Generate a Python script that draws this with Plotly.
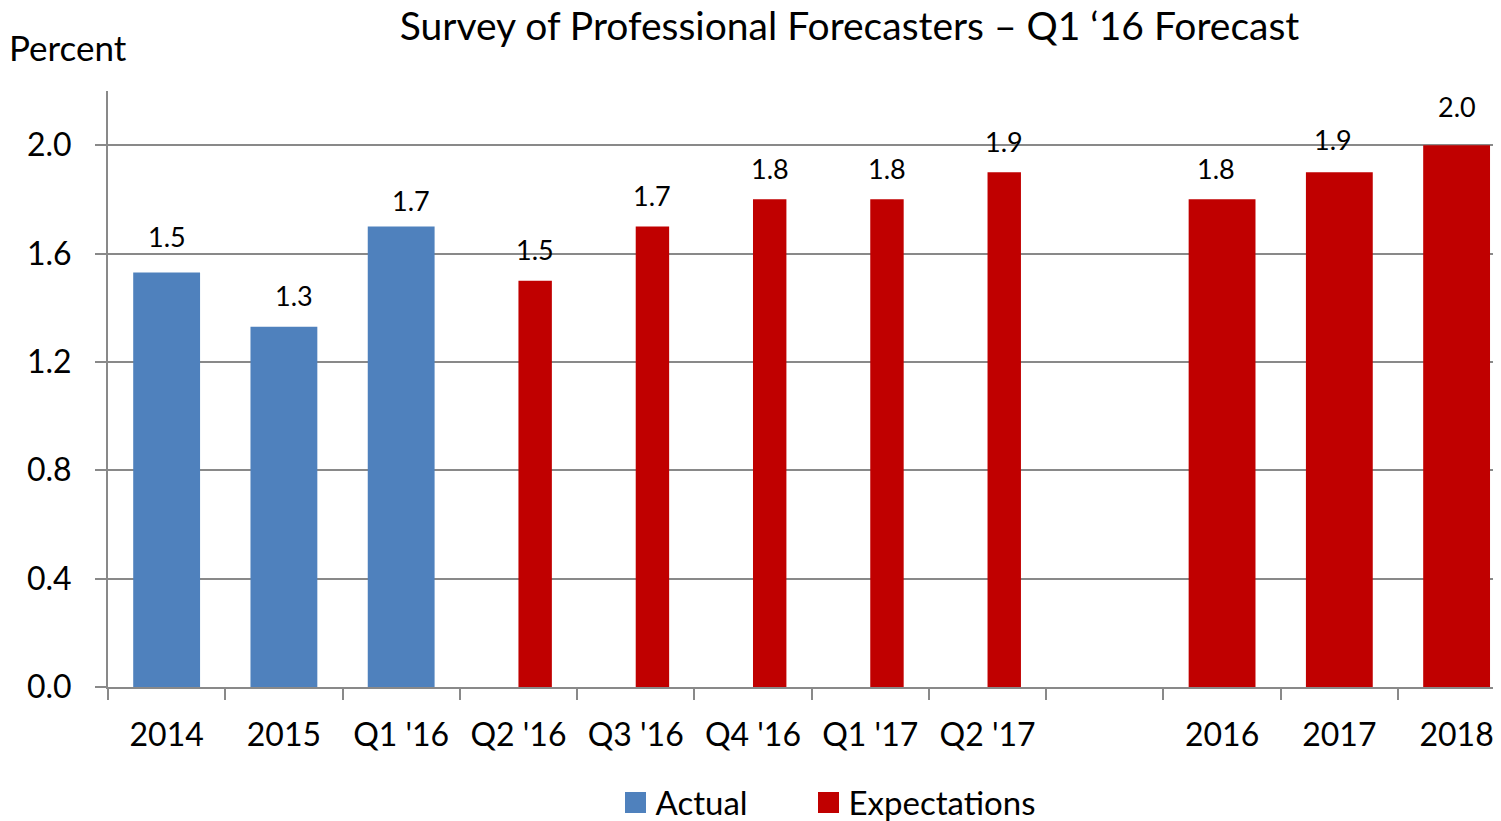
import plotly.graph_objects as go

categories = ["2014", "2015", "Q1 '16", "Q2 '16", "Q3 '16", "Q4 '16",
              "Q1 '17", "Q2 '17", " ", "2016", "2017", "2018"]

actual_cats = ["2014", "2015", "Q1 '16"]
actual_vals = [1.53, 1.33, 1.70]

exp_q_cats = ["Q2 '16", "Q3 '16", "Q4 '16", "Q1 '17", "Q2 '17"]
exp_q_vals = [1.50, 1.70, 1.80, 1.80, 1.90]

exp_y_cats = ["2016", "2017", "2018"]
exp_y_vals = [1.80, 1.90, 2.00]

y_ticks = [0.0, 0.4, 0.8, 1.2, 1.6, 2.0]

BLUE = "#4F81BD"
RED = "#C00000"
GRAY = "#898989"
FONT = "Lato"

# page body has an 8px margin, so the figure is sized to fill the rest
W, H = 1493, 813
ML, MR, MT, MB = 100, 1, 83, 134
XR = [-0.5, 11.37]
cat_px = (W - ML - MR) / (XR[1] - XR[0])
full_w = 0.57
half_w = full_w / 2

# small manual nudges (px) of the value labels, as placed in the original
label_nudge = {"2014": (0, -5), "2015": (10, 0), "Q1 '16": (10, 5),
               "2016": (-6, 2), "2017": (-6, 0), "2018": (0, -6)}

fig = go.Figure()
fig.add_trace(go.Bar(x=actual_cats, y=actual_vals, name="Actual",
                     marker=dict(color=BLUE, line=dict(width=0)), width=full_w,
                     showlegend=False))
fig.add_trace(go.Bar(x=exp_q_cats, y=exp_q_vals, name="Expectations",
                     marker=dict(color=RED, line=dict(width=0)),
                     width=half_w, offset=0, showlegend=False))
fig.add_trace(go.Bar(x=exp_y_cats, y=exp_y_vals, name="Expectations",
                     marker=dict(color=RED, line=dict(width=0)),
                     width=full_w, showlegend=False))

# legend swatches (no data)
for nm, col, lg in [("Actual", BLUE, "legend"), ("Expectations", RED, "legend2")]:
    fig.add_trace(go.Scatter(x=[None], y=[None], mode="markers", name=nm,
                             legend=lg,
                             marker=dict(symbol="square", size=16, color=col,
                                         line=dict(width=5, color=col))))

label_font = dict(family=FONT, size=27, color="black")


def add_label(c, v, xshift, yshift):
    dx, dy = label_nudge.get(c, (0, 0))
    fig.add_annotation(x=categories.index(c), y=v, text=f"{v:.1f}", showarrow=False,
                       yanchor="middle", yshift=yshift - dy, xshift=xshift + dx,
                       font=label_font)


for c, v in zip(actual_cats, actual_vals):
    add_label(c, v, 0, 31)
for c, v in zip(exp_q_cats, exp_q_vals):
    add_label(c, v, half_w / 2 * cat_px, 31)
for c, v in zip(exp_y_cats, exp_y_vals):
    add_label(c, v, 0, 33)

fig.add_annotation(text="Percent", xref="paper", yref="paper",
                   x=(-1 - ML) / (W - ML - MR), xanchor="left",
                   y=1 + (MT - 38.5) / (H - MT - MB), yanchor="middle",
                   showarrow=False, font=dict(family=FONT, size=35, color="black"))

legend_common = dict(orientation="h", xref="container", yref="container",
                     xanchor="left", y=1 - 794.5 / H, yanchor="middle",
                     font=dict(family=FONT, size=33, color="black"),
                     bgcolor="rgba(0,0,0,0)")

fig.update_layout(
    width=W, height=H,
    margin=dict(l=ML, r=MR, t=MT, b=MB),
    paper_bgcolor="white", plot_bgcolor="white",
    barmode="overlay",
    font=dict(family=FONT, color="black"),
    title=dict(text="Survey of Professional Forecasters \u2013 Q1 \u201816 Forecast",
               x=841.5 / W, xanchor="center", xref="container",
               y=1 - 18.5 / H, yanchor="middle", yref="container",
               font=dict(family=FONT, size=39, color="black")),
    showlegend=True,
    legend=dict(x=607.5 / W, **legend_common),
    legend2=dict(x=800.5 / W, **legend_common),
    xaxis=dict(type="category", categoryorder="array", categoryarray=categories,
               range=XR, showgrid=False, showline=True, linecolor=GRAY, linewidth=2,
               ticks="outside", tickson="boundaries", ticklen=11, tickcolor=GRAY,
               tickwidth=2, ticklabelstandoff=19,
               tickfont=dict(family=FONT, size=32, color="black")),
    yaxis=dict(range=[0, 2.2], tickvals=y_ticks, tickformat=".1f",
               showgrid=True, gridcolor=GRAY, gridwidth=2, zeroline=False,
               showline=True, linecolor=GRAY, linewidth=2,
               ticks="outside", ticklen=11, tickcolor=GRAY, tickwidth=2,
               ticklabelstandoff=17,
               tickfont=dict(family=FONT, size=32, color="black")),
)

fig.write_html("out.html")
